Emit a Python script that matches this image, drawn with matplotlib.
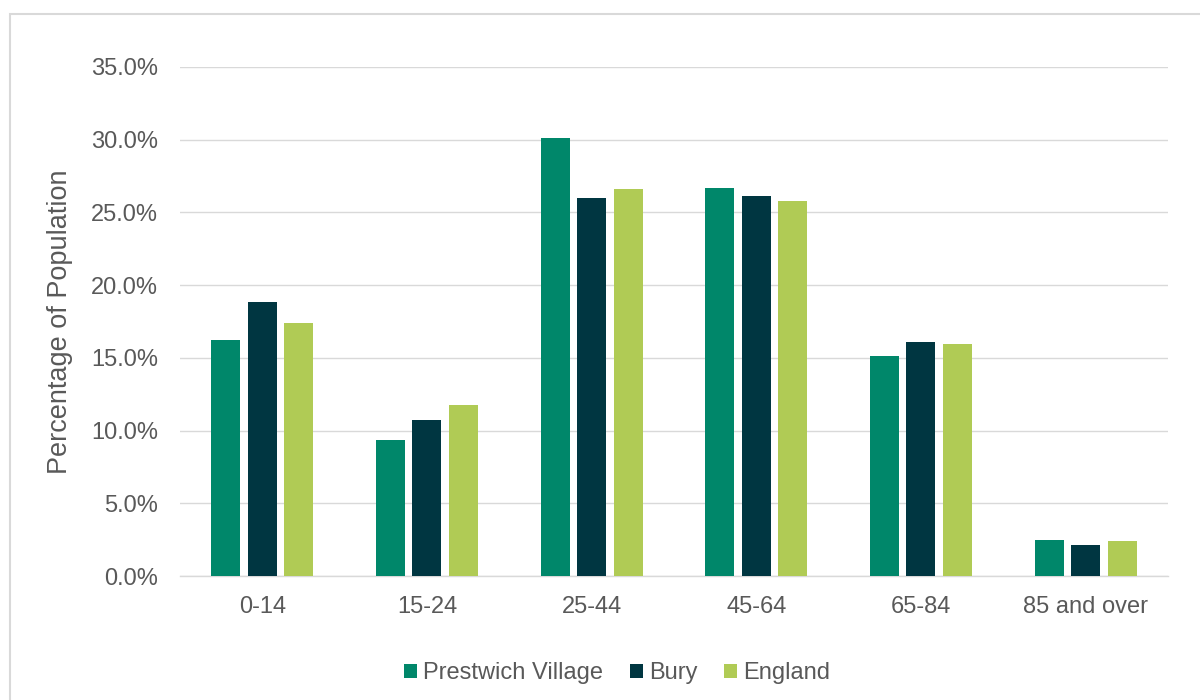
import matplotlib
matplotlib.use("Agg")
import matplotlib.pyplot as plt
from matplotlib.patches import Patch, Rectangle
from matplotlib.ticker import FuncFormatter
import numpy as np

categories = ["0-14", "15-24", "25-44", "45-64", "65-84", "85 and over"]
series_names = ["Prestwich Village", "Bury", "England"]
prestwich = [16.2, 9.35, 30.1, 26.65, 15.15, 2.45]
bury = [18.85, 10.7, 26.0, 26.13, 16.07, 2.13]
england = [17.4, 11.75, 26.6, 25.77, 15.95, 2.38]
colors = ["#00876A", "#003641", "#B0CB55"]
y_ticks = [0, 5, 10, 15, 20, 25, 30, 35]

plt.rcParams['font.family'] = ['Liberation Sans', 'DejaVu Sans']
text_color = "#595959"
grid_color = "#D9D9D9"

fig = plt.figure(figsize=(12, 7), dpi=100)
ax = fig.add_axes([0.15, 0.177, 0.8233, 0.7273])

x = np.arange(len(categories))
width = 0.176
stride = 0.221
for i, (vals, c) in enumerate(zip([prestwich, bury, england], colors)):
    ax.bar(x + (i - 1) * stride, vals, width=width, color=c, zorder=3)

ax.set_xlim(-0.5, len(categories) - 0.5)
ax.set_ylim(0, 35)
ax.set_yticks(y_ticks)
ax.yaxis.set_major_formatter(FuncFormatter(lambda v, p: f"{v:.1f}%"))
ax.set_xticks(x)
ax.set_xticklabels(categories)
ax.tick_params(axis='both', length=0, labelsize=17, labelcolor=text_color)
ax.tick_params(axis='y', pad=16)
ax.tick_params(axis='x', pad=14)
ax.grid(axis='y', color=grid_color, linewidth=1.0, zorder=0)
for s in ["top", "right", "left"]:
    ax.spines[s].set_visible(False)
ax.spines["bottom"].set_color(grid_color)
ax.spines["bottom"].set_linewidth(1.0)

fig.text(60 / 1200, 1 - 322 / 700, "Percentage of Population", rotation=90,
         ha="center", va="center", fontsize=19.5, color=text_color)

handles = [Patch(facecolor=c, edgecolor='none') for c in colors]
leg = fig.legend(handles, series_names, loc="center", bbox_to_anchor=(617 / 1200, 1 - 673 / 700),
                 ncol=3, frameon=False, fontsize=17, handlelength=0.55, handleheight=0.55,
                 handletextpad=0.25, columnspacing=1.15)
for t in leg.get_texts():
    t.set_color(text_color)

fig.patches.append(Rectangle((10 / 1200, -0.01), 1.0, 1 - 14 / 700 + 0.01,
                             transform=fig.transFigure, fill=False,
                             edgecolor=grid_color, linewidth=1.5))

fig.savefig("out.png", dpi=100)
